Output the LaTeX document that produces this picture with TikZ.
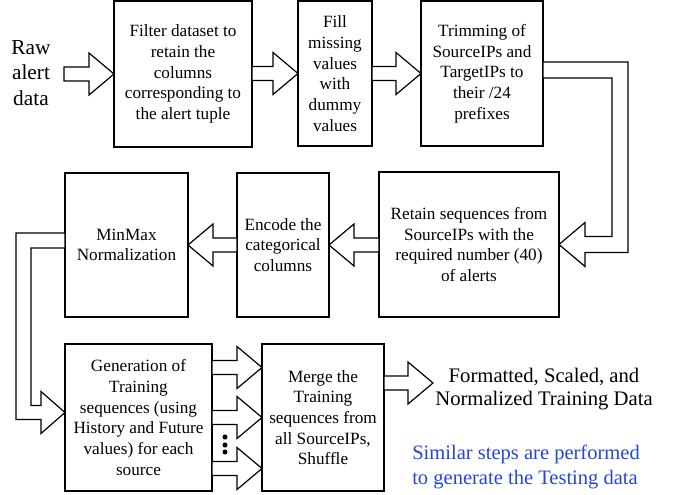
\documentclass[tikz,border=0pt]{standalone}
\usepackage{fontspec}
\setmainfont{Liberation Serif}
\usetikzlibrary{calc}
\definecolor{noteblue}{RGB}{35,70,215}
\tikzset{
  stepbox/.style={draw, line width=1.2pt, fill=white, align=center, inner sep=0pt, outer sep=0pt,
    font=\fontsize{12.9}{15.5}\selectfont},
  sz/.style 2 args={minimum width=#1*0.75pt, minimum height=#2*0.75pt},
  barrow/.style={draw, line width=0.9pt, fill=white, line join=miter},
}
\newcommand\harrow[3]{%
  \draw[barrow] ($(#1|-#2)+(0,-7)$) -- ($(#2)+({-25*(#3)},-7)$) -- ($(#2)+({-25*(#3)},-21)$)
    -- (#2) -- ($(#2)+({-25*(#3)},21)$) -- ($(#2)+({-25*(#3)},7)$) -- ($(#1|-#2)+(0,7)$) -- cycle;}
\begin{document}
\begin{tikzpicture}[x=0.75pt,y=-0.75pt]
\useasboundingbox (0,0) rectangle (676,495);
% boxes
\node[stepbox, sz={138}{146}] (b1) at (183,74) {Filter dataset to\\retain the\\columns\\corresponding to\\the alert tuple};
\node[stepbox, sz={74}{145}] (b2) at (335,73.5) {Fill\\missing\\values\\with\\dummy\\values};
\node[stepbox, sz={122}{145}] (b3) at (482,73.5) {Trimming of\\SourceIPs and\\TargetIPs to\\their /24\\prefixes};
\node[stepbox, sz={180}{145}] (b4) at (469,244.5) {Retain sequences from\\SourceIPs with the\\required number (40)\\of alerts};
\node[stepbox, sz={92}{144}] (b5) at (283,245) {Encode the\\categorical\\columns};
\node[stepbox, sz={123}{144}] (b6) at (126.5,245) {MinMax\\Normalization};
\node[stepbox, sz={147}{147}] (b7) at (138.5,417.5) {Generation of\\Training\\sequences (using\\History and Future\\values) for each\\source};
\node[stepbox, sz={122}{147}] (b8) at (323,417.5) {Merge the\\Training\\sequences from\\all SourceIPs,\\Shuffle};
% free texts
\node[align=center, inner sep=0pt, font=\fontsize{16}{19}\selectfont] (raw) at (31,73) {Raw\\alert\\data};
\node[align=center, inner sep=0pt, font=\fontsize{15.5}{17.3}\selectfont] (outtxt) at (544,389) {Formatted, Scaled, and\\Normalized Training Data};
\node[align=left, anchor=west, inner sep=0pt, text=noteblue, font=\fontsize{15.4}{18.75}\selectfont] (note) at (412,467) {Similar steps are performed\\to generate the Testing data};
% coordinates
\coordinate (rawend) at (64,74);
\coordinate (outtip) at (433,383);
\coordinate (t1) at ($(b8.west)+(0,-50)$);
\coordinate (t2) at (b8.west);
\coordinate (t3) at ($(b8.west)+(0,51)$);
% straight block arrows
\harrow{rawend}{b1.west}{1}
\harrow{b1.east}{b2.west}{1}
\harrow{b2.east}{b3.west}{1}
\harrow{b4.west}{b5.east}{-1}
\harrow{b5.west}{b6.east}{-1}
\harrow{b7.east}{t1}{1}
\harrow{b7.east}{t2}{1}
\harrow{b7.east}{t3}{1}
\harrow{b8.east}{outtip}{1}
% elbow arrow b3 -> b4
\draw[barrow] ($(b3.east)+(0,-11.5)$) -- ++(85,0) |- ($(b4.east)+(26,8)$) -- ++(0,14) -- (b4.east)
  -- ++(26,-22) -- ++(0,14) -- ++(27,0) |- ($(b3.east)+(0,4.5)$) -- cycle;
% elbow arrow b6 -> b7
\draw[barrow] ($(b6.west)+(0,-12)$) -| ($(b7.west)+(-49,2)$) -- ++(25,0) -- ++(0,14)
  -- ($(b7.west)+(0,-5)$) -- ++(-24,-21) -- ++(0,14) -- ++(-10,0) |- ($(b6.west)+(0,3)$) -- cycle;
% dots
\foreach \n/\yy in {d1/437, d2/445, d3/452}
  \node[circle, fill=black, inner sep=0pt, minimum size=3.8pt] (\n) at (225,\yy) {};
\end{tikzpicture}
\end{document}
